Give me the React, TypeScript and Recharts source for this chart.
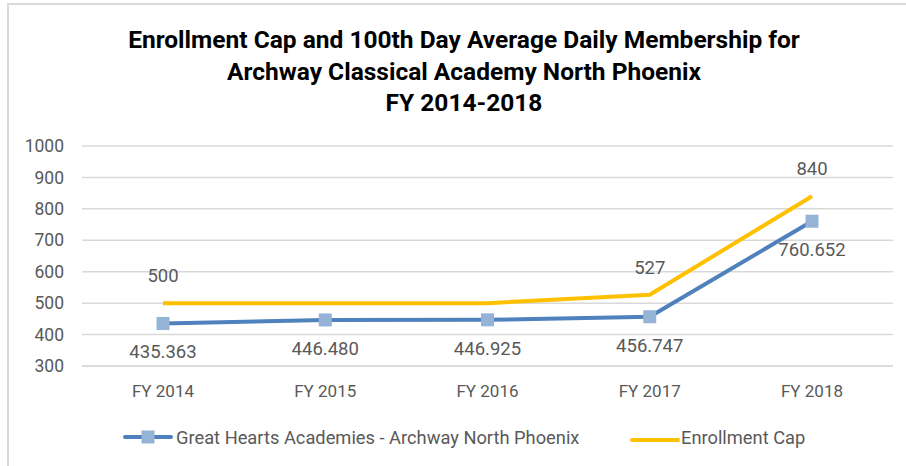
import { LineChart, Line, XAxis, YAxis, CartesianGrid, LabelList } from "recharts";

const years = ["FY 2014", "FY 2015", "FY 2016", "FY 2017", "FY 2018"];
const admValues = [435.363, 446.48, 446.925, 456.747, 760.652];
const capValues = [500, 500, 500, 527, 840];
// only some cap points carry a label in the original
const capLabelShown = [true, false, false, true, true];
const yTicks = [300, 400, 500, 600, 700, 800, 900, 1000];

const BLUE = "#4F81BD";
const MARKER = "#95B3D7";
const GOLD = "#FFC000";
const TEXT = "#595959";
const FONT = "Roboto, sans-serif";

const data = years.map((year, i) => ({
  year,
  adm: admValues[i],
  cap: capValues[i],
}));

const SquareDot = (props: any) => {
  const { cx, cy } = props;
  if (cx == null || cy == null) return null;
  return <rect x={cx - 6.5} y={cy - 6.5} width={13} height={13} fill={MARKER} />;
};

const AdmLabel = (props: any) => {
  const { x, y, value } = props;
  return (
    <text x={x} y={y + 29} textAnchor="middle" dominantBaseline="central" fill={TEXT} fontSize={18.5} fontFamily={FONT}>
      {Number(value).toFixed(3)}
    </text>
  );
};

const CapLabel = (props: any) => {
  const { x, y, value, index } = props;
  if (!capLabelShown[index]) return null;
  return (
    <text x={x} y={y - 27} textAnchor="middle" dominantBaseline="central" fill={TEXT} fontSize={18.5} fontFamily={FONT}>
      {value}
    </text>
  );
};

function ChartLegend() {
  return (
    <div
      style={{
        position: "absolute",
        left: 0,
        top: 427,
        height: 20,
        width: 906,
        display: "flex",
        alignItems: "center",
        fontFamily: FONT,
        fontSize: 18.3,
        color: TEXT,
        whiteSpace: "nowrap",
      }}
    >
      <svg width={50} height={14} style={{ marginLeft: 123 }}>
        <line x1={2} y1={7} x2={48} y2={7} stroke={BLUE} strokeWidth={4} strokeLinecap="round" />
        <rect x={18.5} y={0.5} width={13} height={13} fill={MARKER} />
      </svg>
      <span style={{ marginLeft: 3 }}>Great Hearts Academies - Archway North Phoenix</span>
      <span style={{ position: "absolute", left: 630, top: 3 }}>
        <svg width={50} height={14}>
          <line x1={2} y1={7} x2={48} y2={7} stroke={GOLD} strokeWidth={4} strokeLinecap="round" />
        </svg>
      </span>
      <span style={{ position: "absolute", left: 681 }}>Enrollment Cap</span>
    </div>
  );
}

export default function App() {
  return (
    <div style={{ position: "absolute", left: 0, top: 0, width: 906, height: 466, background: "#fff", overflow: "hidden" }}>
      <div
        style={{
          position: "absolute",
          left: 7,
          top: 3,
          width: 899,
          height: 463,
          borderTop: "2px solid #d9d9d9",
          borderLeft: "2px solid #d9d9d9",
        }}
      />
      <div
        style={{
          position: "absolute",
          left: 0,
          width: 928,
          top: 24,
          textAlign: "center",
          fontFamily: FONT,
          fontWeight: "bold",
          fontSize: 24.5,
          lineHeight: "31.5px",
          color: "#000",
        }}
      >
        <div>Enrollment Cap and 100th Day Average Daily Membership for</div>
        <div>Archway Classical Academy North Phoenix</div>
        <div>FY 2014-2018</div>
      </div>
      <LineChart
        width={906}
        height={466}
        data={data}
        margin={{ top: 146, right: 13, bottom: 70, left: 8 }}
        style={{ position: "absolute", left: 0, top: 0 }}
      >
        <CartesianGrid vertical={false} stroke="#d9d9d9" strokeWidth={1.5} />
        <XAxis
          dataKey="year"
          height={30}
          padding={{ left: 81, right: 81 }}
          axisLine={{ stroke: "#d9d9d9", strokeWidth: 1.5 }}
          tickLine={false}
          tickSize={0}
          tickMargin={19}
          tick={{ fill: TEXT, fontSize: 17, fontFamily: FONT }}
        />
        <YAxis
          width={74}
          domain={[300, 1000]}
          ticks={yTicks}
          interval={0}
          axisLine={false}
          tickLine={false}
          tickSize={0}
          tickMargin={18}
          tick={{ fill: TEXT, fontSize: 17.5, fontFamily: FONT }}
        />
        <Line
          dataKey="cap"
          stroke={GOLD}
          strokeWidth={4}
          dot={false}
          isAnimationActive={false}
        >
          <LabelList dataKey="cap" content={<CapLabel />} />
        </Line>
        <Line
          dataKey="adm"
          stroke={BLUE}
          strokeWidth={4}
          dot={<SquareDot />}
          activeDot={false}
          isAnimationActive={false}
        >
          <LabelList dataKey="adm" content={<AdmLabel />} />
        </Line>
      </LineChart>
      <ChartLegend />
    </div>
  );
}
